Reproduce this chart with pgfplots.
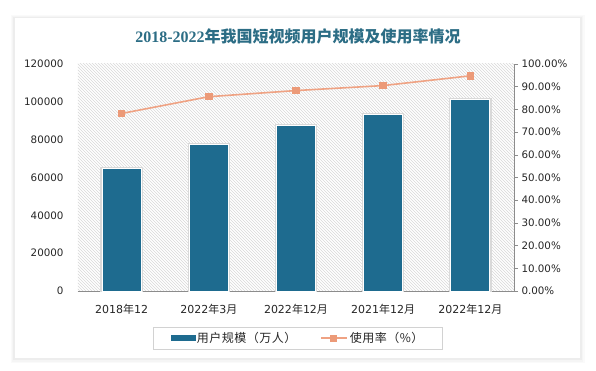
\documentclass[border=0pt]{standalone}
\usepackage{fontspec}
\usepackage{pgfplots}
\pgfplotsset{compat=1.18}
\usetikzlibrary{patterns}
\setmainfont{DejaVu Sans}
\newfontfamily\cjk[LetterSpace=4]{Noto Sans CJK SC}
\newfontfamily\cjkt{Noto Sans CJK SC}
\newfontfamily\ser{Liberation Serif}
\definecolor{barc}{HTML}{1E6B8F}
\definecolor{linec}{HTML}{EFA283}
\definecolor{markc}{HTML}{EC9A78}
\definecolor{titlec}{HTML}{2C6D85}
\definecolor{txt}{HTML}{262626}
\definecolor{axc}{HTML}{8C8C8C}
\newcommand{\ym}[2]{#1{\cjkt 年}#2{\cjkt 月}}
\begin{document}
\begin{tikzpicture}[x=1pt,y=1pt]
\path[use as bounding box] (0,0) rectangle (596,370);
% card with soft shadow
\fill[gray!4] (11,7) rectangle (585,355);
\fill[gray!8] (12,8) rectangle (583,354);
\fill[gray!14] (13,10) rectangle (582,353);
\fill[white] (15,12) rectangle (580,352);
% title
\node[text=titlec, font=\fontsize{16}{19}\selectfont\bfseries] at (298,334)
  {{\ser\bfseries 2018-2022}{\cjkt\bfseries 年我国短视频用户规模及使用率情况}};

\begin{axis}[
  at={(78pt,79pt)}, anchor=south west, scale only axis,
  width=436pt, height=227pt,
  xmin=-0.5, xmax=4.5, ymin=0, ymax=120000,
  ytick={0,20000,40000,60000,80000,100000,120000},
  scaled y ticks=false,
  /pgf/number format/assume math mode=true,
  yticklabel style={/pgf/number format/fixed, /pgf/number format/1000 sep={}, font=\fontsize{10.3}{12}\selectfont, text=txt, xshift=-11pt},
  axis x line*=bottom, axis y line*=left,
  y axis line style={draw=none},
  x axis line style={draw=axc, line width=0.8pt},
  ytick style={draw=none}, xtick style={draw=none},
  xtick={0,1,2,3,4},
  xticklabels={{2018{\cjkt 年}12},\ym{2022}{3},\ym{2022}{12},\ym{2021}{12},\ym{2022}{12}},
  xticklabel style={font=\fontsize{11}{13}\selectfont, text=txt, yshift=-5pt},
  axis background/.style={pattern=north west lines, pattern color=gray!30},
  ybar, bar width=39pt,
]
\addplot[fill=barc, draw=white, line width=1pt,
  preaction={draw=gray!30, line width=3.5pt}]
  coordinates {(0,64798) (1,77325) (2,87335) (3,93415) (4,101185)};
\end{axis}

\begin{axis}[
  at={(78pt,79pt)}, anchor=south west, scale only axis,
  width=436pt, height=227pt,
  xmin=-0.5, xmax=4.5, ymin=0, ymax=100,
  axis x line=none, axis y line*=right,
  y axis line style={draw=axc, line width=0.8pt},
  ytick={0,10,...,100},
  tick align=outside, major tick length=4pt,
  ytick style={draw=axc, line width=0.6pt},
  /pgf/number format/assume math mode=true,
  yticklabel={\pgfmathprintnumber[fixed,fixed zerofill,precision=2]{\tick}\%},
  yticklabel style={font=\fontsize{10.3}{12}\selectfont, text=txt},
  legend columns=2,
  legend style={at={(0.5046,-0.207)}, anchor=center, draw=gray!35,
    font=\fontsize{12}{14}\selectfont\cjk, text=txt,
    inner xsep=17pt, inner ysep=3pt,
    /tikz/every even column/.append style={column sep=22pt}},
]
\addlegendimage{legend image code/.code={\fill[barc] (0pt,-2.5pt) rectangle (24pt,2.5pt);}}
\addlegendentry{用户规模（万人）}
\addlegendimage{legend image code/.code={\draw[linec,line width=1.6pt] (0pt,0pt)--(26pt,0pt); \fill[markc] (9pt,-3pt) rectangle (15pt,3pt);}}
\addlegendentry{使用率（\%）}
\addplot[linec, line width=1.6pt, mark=square*, mark size=3pt,
  mark options={fill=markc, draw=markc}]
  coordinates {(0,78.2) (1,85.6) (2,88.3) (3,90.5) (4,94.8)};
\end{axis}
\end{tikzpicture}
\end{document}
